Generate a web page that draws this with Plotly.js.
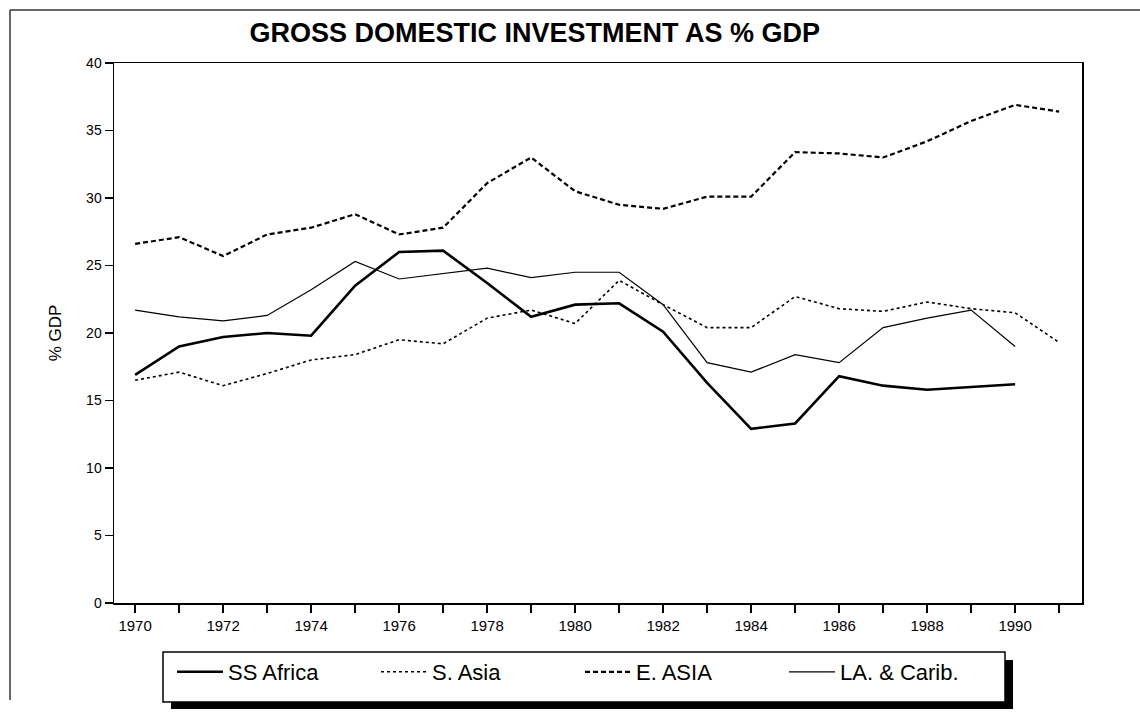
<!DOCTYPE html>
<html>
<head>
<meta charset="utf-8">
<script src="https://cdn.plot.ly/plotly-3.0.1.min.js"></script>
<style>html,body{margin:0;padding:0;background:#fff;}#chart{width:1140px;height:713px;}</style>
</head>
<body>
<div id="chart"></div>
<script>
const years = [1970,1971,1972,1973,1974,1975,1976,1977,1978,1979,1980,1981,1982,1983,1984,1985,1986,1987,1988,1989,1990,1991];
const ssAfrica = [16.9,19.0,19.7,20.0,19.8,23.5,26.0,26.1,23.7,21.2,22.1,22.2,20.1,16.3,12.9,13.3,16.8,16.1,15.8,16.0,16.2,null];
const sAsia = [16.5,17.1,16.1,17.0,18.0,18.4,19.5,19.2,21.1,21.7,20.7,23.9,22.1,20.4,20.4,22.7,21.8,21.6,22.3,21.8,21.5,19.3];
const eAsia = [26.6,27.1,25.7,27.3,27.8,28.8,27.3,27.8,31.1,33.0,30.5,29.5,29.2,30.1,30.1,33.4,33.3,33.0,34.2,35.7,36.9,36.4];
const laCarib = [21.7,21.2,20.9,21.3,23.2,25.3,24.0,24.4,24.8,24.1,24.5,24.5,22.1,17.8,17.1,18.4,17.8,20.4,21.1,21.7,19.0,null];
const seriesNames = ["SS Africa","S. Asia","E. ASIA","LA. & Carib."];
const xTickVals = years;
const xTickText = years.map(y => (y % 2 === 0 ? String(y) : ""));
const yTickVals = [0,5,10,15,20,25,30,35,40];

const traces = [
  {x: years, y: ssAfrica, name: seriesNames[0], mode: "lines", line: {color: "#000", width: 2.6}},
  {x: years, y: sAsia, name: seriesNames[1], mode: "lines", line: {color: "#000", width: 1.6, dash: "dot"}},
  {x: years, y: eAsia, name: seriesNames[2], mode: "lines", line: {color: "#000", width: 2.2, dash: "5px,3px"}},
  {x: years, y: laCarib, name: seriesNames[3], mode: "lines", line: {color: "#000", width: 1.2}}
];

const W = 968, H = 540, L = 114, T = 63;
const px = v => (v - L) / W;
const py = v => (T + H - v) / H;

const layout = {
  width: 1140, height: 713,
  margin: {l: 114, r: 58, t: 63, b: 110},
  paper_bgcolor: "#fff", plot_bgcolor: "#fff",
  font: {family: "Liberation Sans, Arial, sans-serif", color: "#000"},
  title: {text: "<b>GROSS DOMESTIC INVESTMENT AS % GDP</b>", font: {size: 27, color: "#000", family: "Liberation Sans, Arial, sans-serif"},
          xref: "container", yref: "container", x: 0.469, xanchor: "center", y: 1 - 33/713, yanchor: "middle"},
  showlegend: true,
  legend: {orientation: "h", x: px(172), xanchor: "left", y: py(672), yanchor: "middle",
           bgcolor: "rgba(0,0,0,0)", borderwidth: 0, font: {size: 22, color: "#000"},
           itemwidth: 46, entrywidth: 143, tracegroupgap: 0},
  xaxis: {range: [1969.52, 1991.52], tickmode: "array", tickvals: xTickVals, ticktext: xTickText,
          ticks: "outside", ticklen: 8, tickwidth: 1.5, tickcolor: "#000",
          showline: true, linecolor: "#000", linewidth: 1.5, mirror: true,
          showgrid: false, zeroline: false, tickfont: {size: 15, color: "#000"}},
  yaxis: {range: [0, 40], tickmode: "array", tickvals: yTickVals,
          ticks: "outside", ticklen: 8, tickwidth: 1.5, tickcolor: "#000",
          showline: true, linecolor: "#000", linewidth: 1.5, mirror: true,
          showgrid: false, zeroline: false, tickfont: {size: 14, color: "#000"},
          title: {text: "% GDP", font: {size: 17, color: "#000"}, standoff: 20}},
  shapes: [
    {type: "line", xref: "paper", yref: "paper", x0: px(10), x1: px(1140), y0: py(10), y1: py(10), line: {color: "#333", width: 1.5}, layer: "below"},
    {type: "line", xref: "paper", yref: "paper", x0: px(10), x1: px(10), y0: py(10), y1: py(700), line: {color: "#333", width: 1.5}, layer: "below"},
    {type: "rect", xref: "paper", yref: "paper", x0: px(171), x1: px(1013), y0: py(660), y1: py(709), fillcolor: "#000", line: {width: 0}, layer: "above"},
    {type: "rect", xref: "paper", yref: "paper", x0: px(163), x1: px(1005), y0: py(652), y1: py(702), fillcolor: "#fff", line: {color: "#000", width: 1.5}, layer: "above"}
  ]
};

Plotly.newPlot("chart", traces, layout, {displayModeBar: false, staticPlot: true});
</script>
</body>
</html>
